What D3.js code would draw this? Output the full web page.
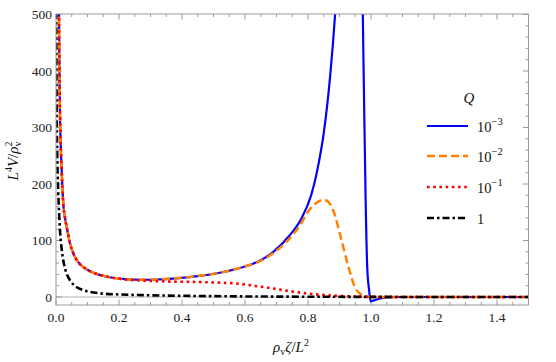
<!DOCTYPE html>
<html><head><meta charset="utf-8">
<script src="https://cdn.jsdelivr.net/npm/d3@7"></script>
<style>
html,body{margin:0;padding:0;background:#fff;}
svg{display:block;}
svg text{font-family:"Liberation Serif","Times New Roman",serif;}
</style>
</head><body>
<svg id="chart" width="556" height="362"></svg>
<script>
// ---------- data ----------
const commonX = [0.009,0.0095,0.011,0.0128,0.015,0.018,0.023,0.028,0.034,0.044,0.055,0.07,0.087,0.11,0.14,0.18];
const commonY = [560,500,400,320,270,225,166,142,124,96,77,62,53,45,39,34];

const blueLeftX = commonX.concat([0.22,0.27,0.32,0.38,0.45,0.52,0.6,0.65,0.69,0.74,0.78,0.81,0.835,0.85,0.87,0.886,0.895]);
const blueLeftY = commonY.concat([31.5,30.5,31,33,37,43,54,65,80,108,140,180,240,290,389,500,580]);
const blueRightX = [0.972,0.974,0.978,0.983,0.988,0.994,0.999,1.01,1.03,1.05,1.08,1.5];
const blueRightY = [580,500,348,171,53,12,-8,-6,-2.5,-0.5,0,0];

const orangeX = commonX.concat([0.22,0.27,0.32,0.38,0.45,0.52,0.6,0.65,0.7,0.75,0.775,0.8,0.825,0.85,0.865,0.88,0.905,0.928,0.95,0.968,0.985,1.0,1.5]);
const orangeY = commonY.concat([31.5,30.5,31,33,37,43,54,64,82,109,127,151,166,172,168,153,104,54,16,5,1,0,0]);

const redX = commonX.concat([0.22,0.28,0.35,0.45,0.51,0.58,0.64,0.69,0.74,0.8,0.85,0.9,0.95,1.0,1.1,1.5]);
const redY = commonY.concat([31,29,27.5,26.5,25.5,23.5,19,15,10.5,6,3.5,2,0.8,0.2,0,0]);

const blackX = [0.0008,0.001,0.002,0.004,0.007,0.0127,0.018,0.023,0.03,0.044,0.06,0.087,0.14,0.2,0.3,0.45,0.6,0.8,1.0,1.2,1.5];
const blackY = [560,500,340,250,190,118,85,65,48,30,20,12,6.5,4.5,3,1.8,1,0.5,0.2,0.05,0];

const xMajorTicks = [0,0.2,0.4,0.6,0.8,1.0,1.2,1.4];
const xTickLabels = ["0.0","0.2","0.4","0.6","0.8","1.0","1.2","1.4"];
const yMajorTicks = [0,100,200,300,400,500];
const yTickLabels = ["0","100","200","300","400","500"];
const legendLabels = [["10","\u22123"],["10","\u22122"],["10","\u22121"],["1",null]];

// ---------- layout ----------
const svg = d3.select("#chart");
const L = 56, R = 528.5, T = 14, B = 305;
const x = d3.scaleLinear().domain([0,1.5]).range([L,R]);
const y = d3.scaleLinear().domain([0,500]).range([297,14.5]);
const frameColor = "#9a9a9a";

const styles = {
  blue:   {stroke:"#0000ff", width:2.2, dash:null},
  orange: {stroke:"#ff8000", width:2.5, dash:"8,4"},
  red:    {stroke:"#ff0000", width:2.6, dash:"2.6,3.6"},
  black:  {stroke:"#000000", width:2.6, dash:"7,3,2.5,3"}
};

svg.append("defs").append("clipPath").attr("id","clip")
  .append("rect").attr("x",L).attr("y",T).attr("width",R-L).attr("height",B-T);

// zero axis line
svg.append("line").attr("x1",L).attr("x2",R).attr("y1",y(0)).attr("y2",y(0))
  .attr("stroke","#b0b0b0").attr("stroke-width",1);

// ticks (inside frame)
const g = svg.append("g");
const xMinor = d3.range(0,1.5001,0.05);
const yMinor = d3.range(0,500.001,20);
xMinor.forEach(v=>{
  const major = Math.abs(v/0.2 - Math.round(v/0.2))<1e-6;
  const len = major?5.5:3;
  g.append("line").attr("x1",x(v)).attr("x2",x(v)).attr("y1",B).attr("y2",B-len).attr("stroke",frameColor).attr("stroke-width",1);
  g.append("line").attr("x1",x(v)).attr("x2",x(v)).attr("y1",T).attr("y2",T+len).attr("stroke",frameColor).attr("stroke-width",1);
});
yMinor.forEach(v=>{
  const major = v%100===0;
  const len = major?5.5:3;
  g.append("line").attr("y1",y(v)).attr("y2",y(v)).attr("x1",L).attr("x2",L+len).attr("stroke",frameColor).attr("stroke-width",1);
  g.append("line").attr("y1",y(v)).attr("y2",y(v)).attr("x1",R).attr("x2",R-len).attr("stroke",frameColor).attr("stroke-width",1);
});

// curves
const line = d3.line().x(d=>x(d[0])).y(d=>y(d[1])).curve(d3.curveMonotoneX);
const zipXY = (xs,ys)=>xs.map((v,i)=>[v,ys[i]]);
const plot = svg.append("g").attr("clip-path","url(#clip)");
function draw(data, st){
  const p = plot.append("path").attr("d",line(data)).attr("fill","none")
    .attr("stroke",st.stroke).attr("stroke-width",st.width);
  if(st.dash) p.attr("stroke-dasharray",st.dash);
}
draw(zipXY(blueLeftX,blueLeftY), styles.blue);
draw(zipXY(blueRightX,blueRightY), styles.blue);
draw(zipXY(orangeX,orangeY), styles.orange);
draw(zipXY(redX,redY), styles.red);
draw(zipXY(blackX,blackY), styles.black);

// frame
svg.append("rect").attr("x",L).attr("y",T).attr("width",R-L).attr("height",B-T)
  .attr("fill","none").attr("stroke",frameColor).attr("stroke-width",1);

// tick labels
xMajorTicks.forEach((v,i)=>{
  svg.append("text").attr("x",x(v)).attr("y",322).attr("text-anchor","middle")
    .attr("font-size",13.5).attr("fill","#222").text(xTickLabels[i]);
});
yMajorTicks.forEach((v,i)=>{
  svg.append("text").attr("x",52).attr("y",y(v)+4.5).attr("text-anchor","end")
    .attr("font-size",13.5).attr("fill","#222").text(yTickLabels[i]);
});

// x axis label: ρ_v ζ / L^2
const xl = svg.append("text").attr("x",291).attr("y",352).attr("text-anchor","middle").attr("font-size",15).attr("fill","#111");
xl.append("tspan").attr("font-style","italic").text("ρ");
xl.append("tspan").attr("font-size",10).attr("dy",3).text("v");
xl.append("tspan").attr("font-style","italic").attr("dy",-3).text("ζ");
xl.append("tspan").text("/");
xl.append("tspan").attr("font-style","italic").text("L");
xl.append("tspan").attr("font-size",10).attr("dy",-6).text("2");

// y axis label: L^4 V / ρ_v^2
const yl = svg.append("text").attr("transform","translate(18,161) rotate(-90)").attr("text-anchor","middle").attr("font-size",15).attr("fill","#111");
yl.append("tspan").attr("font-style","italic").text("L");
yl.append("tspan").attr("font-size",10).attr("dy",-6).text("4");
yl.append("tspan").attr("font-style","italic").attr("dy",6).text("V");
yl.append("tspan").text("/");
yl.append("tspan").attr("font-style","italic").text("ρ");
yl.append("tspan").attr("font-size",10).attr("dy",3).text("v");
yl.append("tspan").attr("font-size",10).attr("dy",-9).attr("dx",-5).text("2");

// legend
svg.append("text").attr("x",469).attr("y",103).attr("text-anchor","middle").attr("font-size",15)
  .attr("font-style","italic").attr("fill","#111").text("Q");
const legStyles = [styles.blue, styles.orange, styles.red, styles.black];
const legY = [126,156,187,218];
legStyles.forEach((st,i)=>{
  const l = svg.append("line").attr("x1",427).attr("x2",468).attr("y1",legY[i]).attr("y2",legY[i])
    .attr("stroke",st.stroke).attr("stroke-width",st.width);
  if(st.dash) l.attr("stroke-dasharray",st.dash);
  const t = svg.append("text").attr("x",477).attr("y",legY[i]+5.5).attr("font-size",14.5).attr("fill","#111");
  t.append("tspan").text(legendLabels[i][0]);
  if(legendLabels[i][1]) t.append("tspan").attr("font-size",10.5).attr("dy",-7).text(legendLabels[i][1]);
});
</script>
</body></html>
